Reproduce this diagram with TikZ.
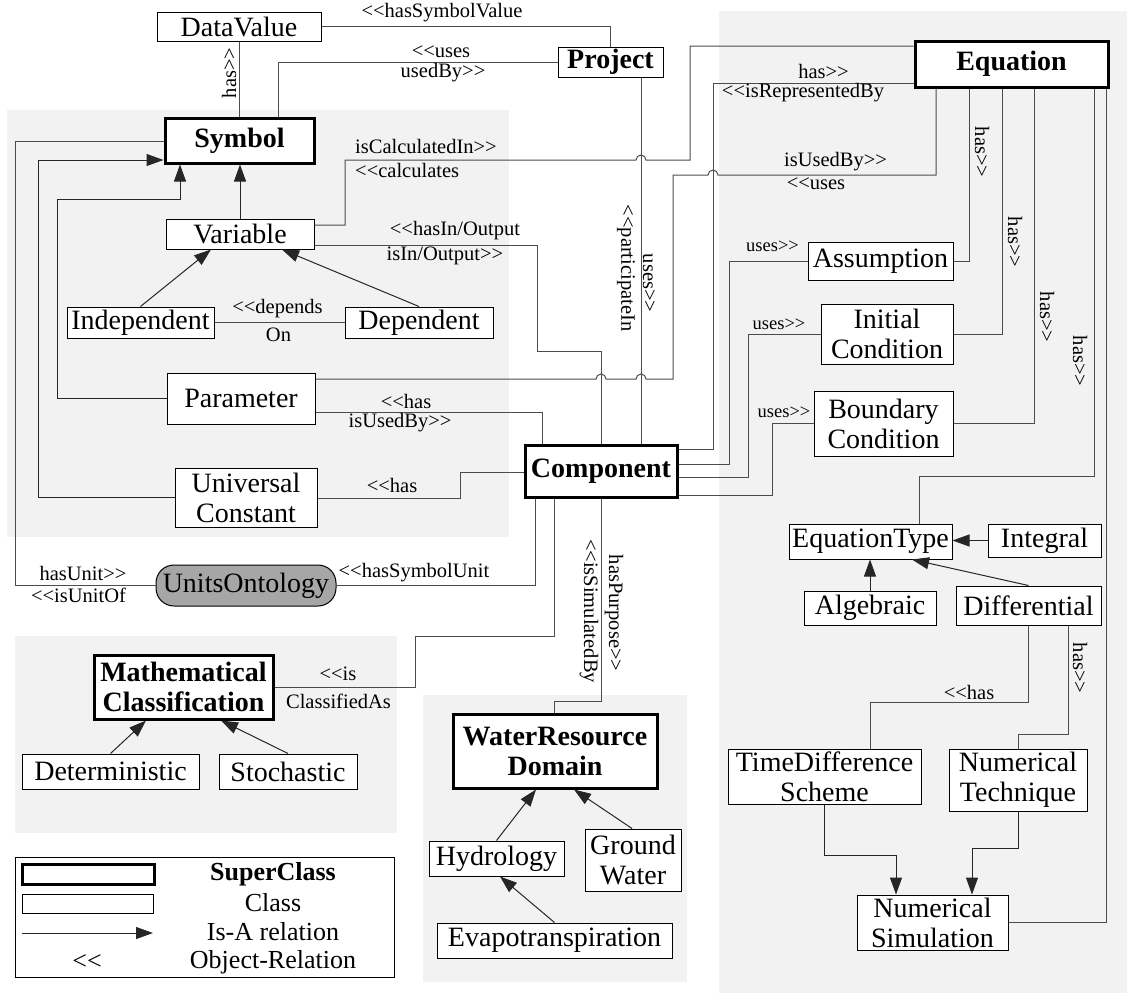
\documentclass[tikz,border=0pt]{standalone}
\usepackage{fontspec}
\setmainfont{Liberation Serif}
\usetikzlibrary{arrows.meta}

\newcommand{\relL}{<\kern0pt<}
\newcommand{\relR}{>\kern0pt>}

\tikzset{
  wh/.style 2 args={minimum width=#1pt, minimum height=#2pt},
  cls/.style={draw, fill=white, line width=1pt, inner sep=0pt, align=center, font=\fontsize{28}{30}\selectfont},
  supercls/.style={cls, line width=3pt, font=\fontsize{28}{30}\selectfont\bfseries},
  lbl/.style={inner sep=0pt, font=\fontsize{20.5}{22}\selectfont},
  smalllbl/.style={inner sep=0pt, font=\fontsize{18.5}{20}\selectfont},
  legtxt/.style={inner sep=0pt, font=\fontsize{26}{28}\selectfont},
  rel/.style={black!70, line width=1pt},
  isa/.style={black!85, line width=1pt, -{Triangle[length=17pt,width=12pt]}},
  region/.style={fill=black!5, draw=none}
}

\begin{document}
\begin{tikzpicture}[x=1pt, y=-1pt]
\useasboundingbox (0,0) rectangle (1127,993);

% Shaded groups of classes
\fill[region] (7,110) rectangle (509,537);
\fill[region] (719,11) rectangle (1127,993);
\fill[region] (15,636) rectangle (397,833);
\fill[region] (423,695) rectangle (687,982);

% Classes of the ontology
\node[cls, wh={164}{29}] (datavalue) at (239,26.5) {DataValue};
\node[cls, wh={105}{30}, font=\fontsize{28}{30}\selectfont\bfseries] (project) at (610.5,62) {Project};
\node[supercls, wh={193}{46}] (equation) at (1011.5,64) {Equation};
\node[supercls, wh={149}{45}] (symbol) at (239.5,140.5) {Symbol};
\node[cls, wh={148}{30}] (variable) at (240,234) {Variable};
\node[cls, wh={147}{31}] (independent) at (140.5,322.5) {Independent};
\node[cls, wh={148}{31}] (dependent) at (419,322.5) {Dependent};
\node[cls, wh={148}{51}] (parameter) at (241,398.5) {Parameter};
\node[cls, wh={142}{59}] (constant) at (246,497.5) {Universal\\Constant};
\node[supercls, wh={152}{52}] (component) at (601,471) {Component};
\node[cls, wh={180}{41}, rounded corners=18pt, fill=black!35] (units) at (246,585.5) {UnitsOntology};
\node[cls, wh={145}{38}] (assumption) at (880.5,261) {Assumption};
\node[cls, wh={132}{60}] (initial) at (887,334) {Initial\\Condition};
\node[cls, wh={139}{65}] (boundary) at (883.5,423.5) {Boundary\\Condition};
\node[cls, wh={163}{35}] (eqtype) at (870.5,541.5) {EquationType};
\node[cls, wh={113}{33}] (integral) at (1044.5,540.5) {Integral};
\node[cls, wh={132}{34}] (algebraic) at (870,608) {Algebraic};
\node[cls, wh={145}{39}] (differential) at (1028.5,605.5) {Differential};
\node[cls, wh={193}{55}] (scheme) at (824.5,776.5) {TimeDifference\\Scheme};
\node[cls, wh={138}{62}] (technique) at (1018,780) {Numerical\\Technique};
\node[cls, wh={151}{55}] (simulation) at (932.5,922.5) {Numerical\\Simulation};
\node[supercls, wh={179}{64}] (mathclass) at (183.5,687) {Mathematical\\Classification};
\node[cls, wh={177}{35}] (deterministic) at (110.5,771.5) {Deterministic};
\node[cls, wh={138}{35}] (stochastic) at (288,771.5) {Stochastic};
\node[supercls, wh={204}{74}] (water) at (555,751) {WaterResource\\Domain};
\node[cls, wh={135}{35}] (hydrology) at (496.5,858.5) {Hydrology};
\node[cls, wh={96}{62}] (groundwater) at (633,860) {Ground\\Water};
\node[cls, wh={235}{35}] (evapo) at (554.5,940.5) {Evapotranspiration};

% Project, data values and symbols
\draw[rel] (datavalue.east) -| (project.north);
\draw[rel] (datavalue.south) -- (symbol.north -| datavalue.south);
\draw[rel] ([xshift=38.5pt]symbol.north) |- (project.west);
\draw[rel] (project.south -| 641,0) -- (component.north -| 641,0);

% Is-A relations inside the symbol group
\draw[isa] (variable.north) -- (variable.north |- symbol.south);
\draw[isa] (independent.north) -- ([xshift=-29pt]variable.south);
\draw[isa] (dependent.north) -- ([xshift=42pt]variable.south);
\draw[rel] (independent.east) -- (dependent.west);
\draw[isa] (parameter.west) -| (57,199) -| ([xshift=-59.5pt]symbol.south);
\draw[isa] (constant.west) -| (38,160) -- (symbol.west |- 0,160);
\draw[rel] (units.west) -| (15,141) -- (symbol.west |- 0,141);

% Object relations of variables, parameters and constants
\draw[rel] (variable.east |- 0,225) -| (345,160) -- (636,160) arc[start angle=180, end angle=360, radius=5] -| (690,46) -- (equation.west |- 0,46);
\draw[rel] (variable.east |- 0,245) -| (537,351) -| (component.north);
\draw[rel] (parameter.east |- 0,379) -- (596,379) arc[start angle=180, end angle=360, radius=5] -- (636,379) arc[start angle=180, end angle=360, radius=5] -| (673,175) -- (708,175) arc[start angle=180, end angle=360, radius=5] -| (equation.south -| 936,0);
\draw[rel] (parameter.east |- 0,412) -| (component.north -| 542,0);
\draw[rel] (constant.east |- 0,498) -| (460,472) -- (component.west |- 0,472);
\draw[rel] (units.east) -| (component.south -| 535,0);

% Equation and what it uses
\draw[rel] (equation.west |- 0,83) -| (713,449) -- (component.east |- 0,449);
\draw[rel] (component.east |- 0,464) -| (729,261) -- (assumption.west);
\draw[rel] (component.east |- 0,477) -| (748,334) -- (initial.west);
\draw[rel] (component.east |- 0,495) -| (772,423.5) -- (boundary.west);
\draw[rel] (equation.south -| 969,0) |- (assumption.east);
\draw[rel] (equation.south -| 1002,0) |- (initial.east);
\draw[rel] (equation.south -| 1034,0) |- (boundary.east);
\draw[rel] (equation.south -| 1094,0) |- (919,476) -- (eqtype.north -| 919,0);
\draw[rel] (equation.south -| 1106,0) |- (simulation.east);

% Equation types and numerical solution
\draw[isa] (integral.west) -- (eqtype.east |- integral.west);
\draw[isa] (algebraic.north) -- (algebraic.north |- eqtype.south);
\draw[isa] (differential.north) -- ([xshift=41.5pt]eqtype.south);
\draw[rel] (differential.south) |- (870,702) -- (scheme.north -| 870,0);
\draw[rel] ([xshift=39.5pt]differential.south) |- (1018,734) -- (technique.north);
\draw[isa] (scheme.south) |- (896,855) -- (simulation.north -| 896,0);
\draw[isa] (technique.south) |- (972,848) -- (simulation.north -| 972,0);

% Classification and purpose of a component
\draw[rel] (component.south -| 554,0) |- (415,636) |- (mathclass.east);
\draw[rel] (component.south) |- (554,701) -- (water.north -| 554,0);
\draw[isa] (deterministic.north) -- ([xshift=-37.5pt]mathclass.south);
\draw[isa] (stochastic.north) -- ([xshift=37.5pt]mathclass.south);
\draw[isa] (hydrology.north) -- ([xshift=-19pt]water.south);
\draw[isa] ([xshift=-1pt]groundwater.north) -- ([xshift=19pt]water.south);
\draw[isa] (evapo.north) -- ([xshift=3.5pt]hydrology.south);

% Relation names
\node[lbl] (tHasValue) at (442,13) {\relL hasSymbolValue};
\node[lbl] (tUses) at (441,52) {\relL uses};
\node[lbl] (tUsedBy) at (443,73) {usedBy\relR};
\node[lbl, rotate=90] (tHas) at (229,73) {has\relR};
\node[lbl, anchor=west] (tCalcIn) at (355,146) {isCalculatedIn\relR};
\node[lbl, anchor=west] (tCalcs) at (355,170) {\relL calculates};
\node[lbl] (tHasIO) at (455,231) {\relL hasIn/Output};
\node[lbl] (tIsIO) at (445,256) {isIn/Output\relR};
\node[lbl] (tDepends) at (277.5,309) {\relL depends};
\node[lbl] (tOn) at (278.5,335) {On};
\node[lbl] (tParHas) at (406,401) {\relL has};
\node[lbl] (tParUsed) at (400,423) {isUsedBy\relR};
\node[lbl] (tConstHas) at (392,485) {\relL has};
\node[lbl] (tHasUnit) at (83,573) {hasUnit\relR};
\node[lbl] (tUnitOf) at (78.5,595) {\relL isUnitOf};
\node[lbl] (tSymUnit) at (414,573) {\relL hasSymbolUnit};
\node[lbl, rotate=-90] (tPart) at (626,268) {\relL participateIn};
\node[lbl, rotate=-90] (tPrjUses) at (649,283) {uses\relR};
\node[lbl] (tEqHas) at (823.5,71) {has\relR};
\node[lbl] (tRepr) at (803,93) {\relL isRepresentedBy};
\node[lbl] (tUsedBy2) at (835.5,162) {isUsedBy\relR};
\node[lbl] (tUses2) at (816,184) {\relL uses};
\node[smalllbl] (tUsesA) at (772.5,246) {uses\relR};
\node[smalllbl] (tUsesI) at (779,324) {uses\relR};
\node[smalllbl] (tUsesB) at (784,412) {uses\relR};
\node[lbl, rotate=-90] (tHasA) at (982,152) {has\relR};
\node[lbl, rotate=-90] (tHasI) at (1015,242) {has\relR};
\node[lbl, rotate=-90] (tHasB) at (1047,317) {has\relR};
\node[lbl, rotate=-90] (tHasT) at (1080,361) {has\relR};
\node[lbl] (tDiffHas) at (969,692) {\relL has};
\node[lbl, rotate=-90] (tTechHas) at (1080,668) {has\relR};
\node[lbl] (tIs) at (338,674) {\relL is};
\node[lbl] (tClassAs) at (338.5,701) {ClassifiedAs};
\node[lbl, rotate=-90] (tSimBy) at (589,611) {\relL isSimulatedBy};
\node[lbl, rotate=-90] (tPurpose) at (614,613) {hasPurpose\relR};

% Legend
\node[draw, line width=1pt, inner sep=0pt, wh={379}{120}] (legend) at (204.5,917) {};
\node[draw, line width=3pt, inner sep=0pt, wh={132}{20}] (lgSuper) at (88,874) {};
\node[draw, line width=1pt, inner sep=0pt, wh={131}{19}] (lgClass) at (87.5,903.5) {};
\coordinate (lgFrom) at (22,933);
\coordinate (lgTo) at (153,933);
\draw[isa] (lgFrom) -- (lgTo);
\node[legtxt] (lgRel) at (87,962) {\relL};
\node[legtxt, font=\fontsize{26}{28}\selectfont\bfseries] (lgSuperTxt) at (273,874) {SuperClass};
\node[legtxt] (lgClassTxt) at (273,903) {Class};
\node[legtxt] (lgIsaTxt) at (273,932) {Is-A relation};
\node[legtxt] (lgRelTxt) at (273,962) {Object-Relation};
\end{tikzpicture}
\end{document}
